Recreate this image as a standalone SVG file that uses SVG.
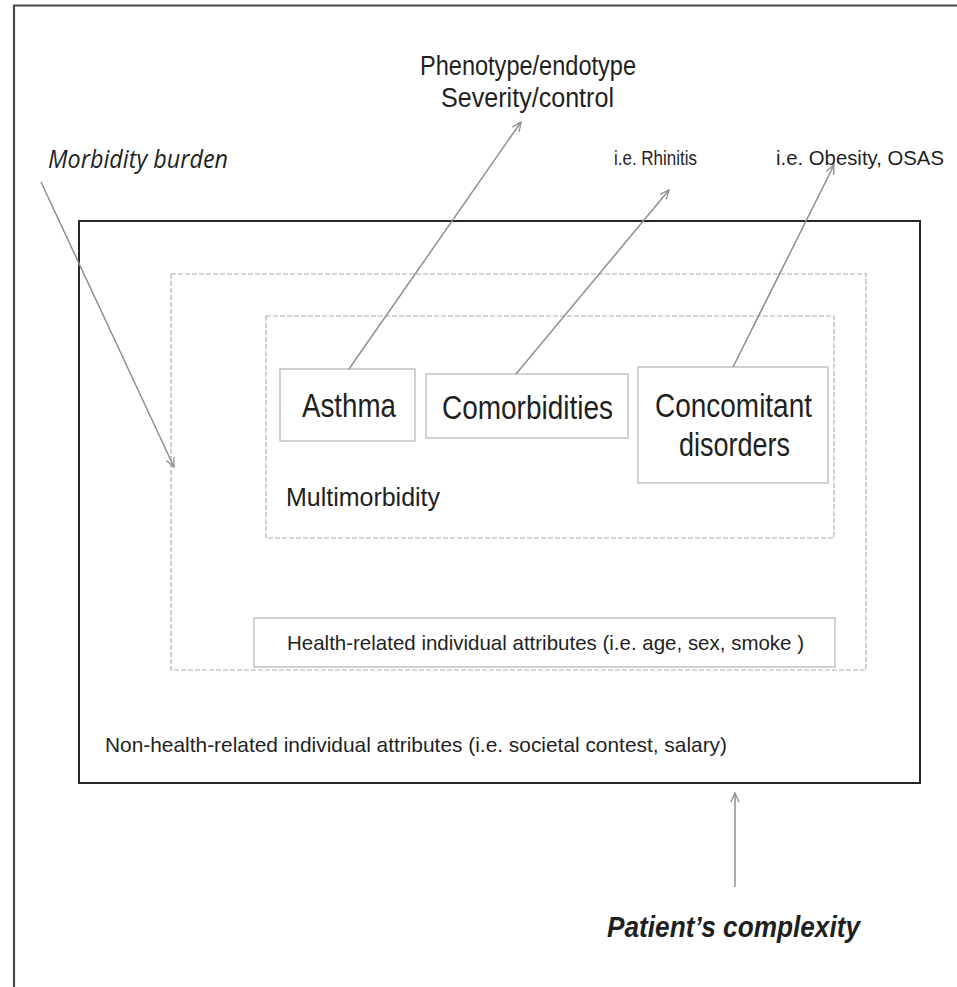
<svg xmlns="http://www.w3.org/2000/svg" width="957" height="987" viewBox="0 0 957 987">
<style>
text{font-family:"Liberation Sans",Arial,sans-serif;fill:#1f1f1f}
.box{fill:none;stroke:#b8b8b8;stroke-width:1.3}
.dash{fill:none;stroke:#b0b0b0;stroke-width:1.2;stroke-dasharray:5 2}
.conn{stroke:#8f8f8f;stroke-width:1.5;fill:none;marker-end:url(#ah)}
</style>
<defs>
<marker id="ah" viewBox="0 0 12 12" refX="11" refY="6" markerWidth="11" markerHeight="11" markerUnits="userSpaceOnUse" orient="auto">
<path d="M1,1.5 L11,6 L1,10.5" fill="none" stroke="#8f8f8f" stroke-width="1.4"/>
</marker>
</defs>
<rect width="957" height="987" fill="#fff"/>
<g id="frame">
<path d="M14,987 V5.5 H957" fill="none" stroke="#4a4a4a" stroke-width="2.2"/>
</g>
<g id="patient-box">
<rect x="79" y="221" width="841" height="562" fill="none" stroke="#262626" stroke-width="2"/>
<text x="105" y="752" font-size="21" textLength="622" lengthAdjust="spacingAndGlyphs">Non-health-related individual attributes (i.e. societal contest, salary)</text>
</g>
<g id="morbidity-box">
<rect class="dash" x="171" y="274" width="695" height="396"/>
</g>
<g id="multimorbidity">
<rect class="dash" x="266" y="316" width="568" height="222"/>
<text x="286" y="506" font-size="25" textLength="154" lengthAdjust="spacingAndGlyphs">Multimorbidity</text>
</g>
<g id="asthma">
<rect class="box" x="280" y="369" width="135" height="72"/>
<text x="302" y="417" font-size="34" textLength="94" lengthAdjust="spacingAndGlyphs">Asthma</text>
</g>
<g id="comorbidities">
<rect class="box" x="426" y="374" width="202" height="64"/>
<text x="442" y="419" font-size="34" textLength="171" lengthAdjust="spacingAndGlyphs">Comorbidities</text>
</g>
<g id="concomitant">
<rect class="box" x="638" y="367" width="190" height="116"/>
<text x="655" y="417" font-size="34" textLength="157" lengthAdjust="spacingAndGlyphs">Concomitant</text>
<text x="679" y="456" font-size="34" textLength="111" lengthAdjust="spacingAndGlyphs">disorders</text>
</g>
<g id="health-attributes">
<rect class="box" x="254" y="618" width="581" height="49"/>
<text x="287" y="650" font-size="21" textLength="517" lengthAdjust="spacingAndGlyphs">Health-related individual attributes (i.e. age, sex, smoke )</text>
</g>
<g id="labels">
<text x="420" y="75" font-size="27" textLength="216" lengthAdjust="spacingAndGlyphs">Phenotype/endotype</text>
<text x="441" y="107" font-size="27" textLength="173" lengthAdjust="spacingAndGlyphs">Severity/control</text>
<text x="48" y="168" font-size="25" font-style="italic" style="font-family:'Open Sans','Liberation Sans',sans-serif" textLength="180" lengthAdjust="spacingAndGlyphs">Morbidity burden</text>
<text x="614" y="165" font-size="20" textLength="83" lengthAdjust="spacingAndGlyphs">i.e. Rhinitis</text>
<text x="776" y="165" font-size="20" textLength="168" lengthAdjust="spacingAndGlyphs">i.e. Obesity, OSAS</text>
<text x="607" y="937" font-size="30" font-weight="bold" font-style="italic" textLength="253" lengthAdjust="spacingAndGlyphs">Patient’s complexity</text>
</g>
<g id="connectors">
<line class="conn" x1="41" y1="182" x2="174" y2="467"/>
<line class="conn" x1="349" y1="369" x2="521" y2="122"/>
<line class="conn" x1="516" y1="374" x2="669" y2="190"/>
<line class="conn" x1="733" y1="367" x2="834" y2="165"/>
<line class="conn" x1="735" y1="887" x2="735" y2="793"/>
</g>
</svg>
